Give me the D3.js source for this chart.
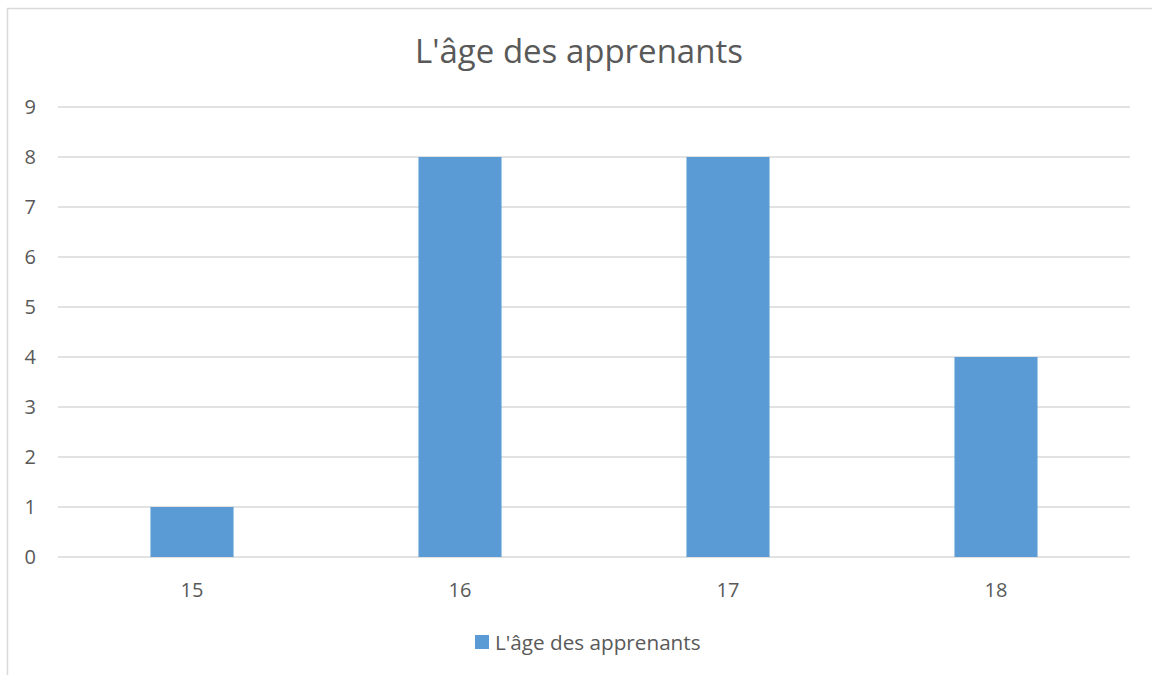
<!DOCTYPE html>
<html>
<head>
<meta charset="utf-8">
<script src="https://cdn.jsdelivr.net/npm/d3@7"></script>
<style>
  html, body { margin: 0; padding: 0; background: #fff; }
  text { font-family: "Open Sans", sans-serif; fill: #595959; }
</style>
</head>
<body>
<div class="chart"></div>
<script>
// Data
const ages = ["15", "16", "17", "18"];
const counts = [1, 8, 8, 4];
const yTicks = [0, 1, 2, 3, 4, 5, 6, 7, 8, 9];
const seriesName = "L'âge des apprenants";
const chartTitle = "L'âge des apprenants";

const W = 1152, H = 675;
const Margin = {top: 107, right: 22, bottom: 118, left: 58},
    Width = W - Margin.left - Margin.right,
    Height = H - Margin.top - Margin.bottom;

const svg = d3.select(".chart")
    .append("svg")
    .attr("width", W)
    .attr("height", H);

// chart area border
svg.append("rect")
    .attr("x", 7.5).attr("y", 8.5)
    .attr("width", W + 10).attr("height", H + 10)
    .attr("fill", "none")
    .attr("stroke", "#d9d9d9")
    .attr("stroke-width", 1.5);

// title
svg.append("text")
    .attr("x", 579).attr("y", 63)
    .attr("text-anchor", "middle")
    .style("font-size", "33px")
    .text(chartTitle);

const g = svg.append("g")
    .attr("transform", "translate(" + Margin.left + "," + Margin.top + ")");

const x = d3.scaleBand().domain(ages).range([0, Width])
    .paddingInner(0.69).paddingOuter(0.345);
const y = d3.scaleLinear().domain([0, 9]).range([Height, 0]);

// gridlines
g.selectAll(".grid")
    .data(yTicks)
    .enter().append("line")
    .attr("x1", 0).attr("x2", Width)
    .attr("y1", d => y(d)).attr("y2", d => y(d))
    .attr("stroke", "#d9d9d9")
    .attr("stroke-width", 1.5);

// Y axis labels
const yAxis = g.append("g")
    .call(d3.axisLeft(y).tickValues(yTicks).tickSize(0).tickPadding(22));
yAxis.select(".domain").remove();
yAxis.selectAll("text").style("font-size", "20px").attr("fill", "#595959");

// bars
g.selectAll(".bar")
    .data(counts)
    .enter().append("rect")
    .attr("x", (d, i) => x(ages[i]))
    .attr("y", d => y(d))
    .attr("width", x.bandwidth())
    .attr("height", d => Height - y(d))
    .attr("fill", "#5b9bd5");

// X axis labels
const xAxis = g.append("g")
    .attr("transform", "translate(0," + Height + ")")
    .call(d3.axisBottom(x).tickSize(0).tickPadding(0));
xAxis.select(".domain").remove();
xAxis.selectAll("text").style("font-size", "20px").attr("fill", "#595959")
    .attr("dy", null).attr("y", 40);

// legend
const legend = svg.append("g").attr("transform", "translate(475,635)");
legend.append("rect")
    .attr("width", 14).attr("height", 14)
    .attr("fill", "#5b9bd5");
legend.append("text")
    .attr("x", 20).attr("y", 15)
    .style("font-size", "20.7px")
    .text(seriesName);
</script>
</body>
</html>
